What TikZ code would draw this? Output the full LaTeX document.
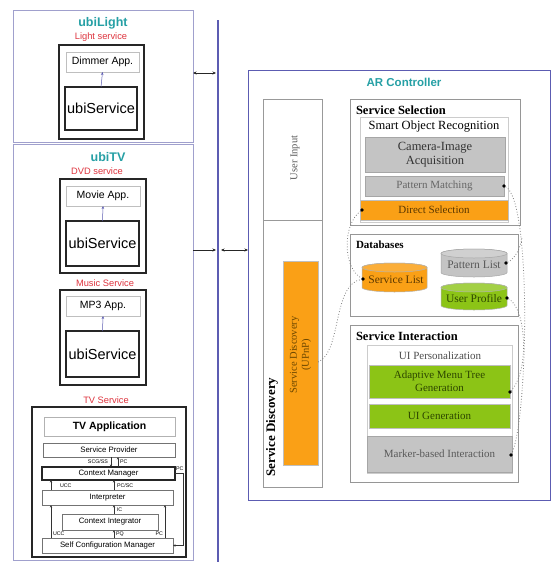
\documentclass[tikz,border=0pt]{standalone}
\usepackage{fontspec}
\setmainfont{Liberation Serif}
\newfontfamily\panelfont{Liberation Sans}
\usetikzlibrary{arrows.meta}

\definecolor{titleteal}{RGB}{38,160,165}
\definecolor{svcred}{RGB}{222,52,62}
\definecolor{busblue}{RGB}{92,92,178}
\definecolor{panelline}{RGB}{160,160,205}
\definecolor{orangefill}{RGB}{250,160,22}
\definecolor{greenfill}{RGB}{140,196,22}
\definecolor{grayfill}{RGB}{196,196,196}
\definecolor{boxline}{RGB}{150,150,150}

\begin{document}
\begin{tikzpicture}[x=1pt,y=-1pt,
  every node/.style={inner sep=0pt, outer sep=0pt},
  panel/.style={draw=panelline, line width=0.8pt},
  redlabel/.style={text=svcred, font=\panelfont\fontsize{9.3}{10}\selectfont},
  teallabel/.style={text=titleteal, font=\panelfont\bfseries\fontsize{12.5}{14}\selectfont},
  svcbox/.style={draw=black!85, line width=1.3pt},
  appbox/.style={draw=black!25, line width=0.5pt, font=\panelfont\fontsize{10.5}{12}\selectfont},
  corebox/.style={draw=black!85, line width=1.3pt, font=\panelfont\fontsize{14.5}{16}\selectfont},
  layer/.style={draw=black!55, line width=0.5pt, font=\panelfont\fontsize{7.8}{9}\selectfont},
  tiny/.style={font=\panelfont\fontsize{5.3}{6}\selectfont},
  flow/.style={-{Stealth[length=2.6pt,width=2.4pt]}, line width=0.5pt, draw=black!80},
  uparrow/.style={-{Stealth[length=3pt,width=2.6pt]}, line width=0.5pt, draw=busblue},
  link/.style={{Stealth[length=3.5pt,width=3pt]}-{Stealth[length=3.5pt,width=3pt]}, line width=0.8pt, draw=black!85},
  linkone/.style={-{Stealth[length=3.5pt,width=3pt]}, line width=0.8pt, draw=black!85},
  group/.style={draw=boxline, line width=0.8pt},
  subgroup/.style={draw=black!20, line width=0.6pt},
  graybox/.style={fill=grayfill, draw=black!35, line width=0.6pt},
  orangebox/.style={fill=orangefill, draw=black!25, line width=0.5pt},
  greenbox/.style={fill=greenfill, draw=black!25, line width=0.5pt},
  heading/.style={font=\bfseries\fontsize{12.5}{14}\selectfont, anchor=west},
  dot/.style={circle, fill=black, minimum size=3.6pt},
  trace/.style={draw=black!50, dotted, line width=0.8pt}
]
\useasboundingbox (0,0) rectangle (553,562);
\fill[white] (0,0) rectangle (553,562);

% ---------------- ubiLight ----------------
\node[panel, minimum width=180pt, minimum height=132pt] (lightpanel) at (103,76) {};
\node[teallabel] (lighttitle) at (103,23) {ubiLight};
\node[redlabel] (lightsvc) at (101,37) {Light service};
\node[svcbox, minimum width=85pt, minimum height=94pt] (lightsvcbox) at (101.5,92) {};
\node[appbox, minimum width=73pt, minimum height=20pt] (dimmer) at (102.5,62) {Dimmer App.};
\node[corebox, minimum width=72pt, minimum height=43pt] (lightcore) at (101,108.5) {ubiService};
\draw[uparrow] (lightcore.north) -- (dimmer.south);

% ---------------- ubiTV ----------------
\node[panel, minimum width=180pt, minimum height=416pt] (tvpanel) at (103,352) {};
\node[teallabel] (tvtitle) at (108,157) {ubiTV};
\node[redlabel] (dvdsvc) at (97,171) {DVD service};
\node[svcbox, minimum width=86pt, minimum height=94pt] (dvdbox) at (103,226) {};
\node[appbox, minimum width=74pt, minimum height=20pt] (movie) at (103,196) {Movie App.};
\node[corebox, minimum width=73pt, minimum height=45pt] (dvdcore) at (102.5,243.5) {ubiService};
\draw[uparrow] (dvdcore.north) -- (movie.south);

\node[redlabel] (musicsvc) at (105,283) {Music Service};
\node[svcbox, minimum width=86pt, minimum height=95pt] (musicbox) at (103,337.5) {};
\node[appbox, minimum width=74pt, minimum height=20pt] (mp3) at (103,306) {MP3 App.};
\node[corebox, minimum width=73pt, minimum height=46pt] (musiccore) at (102.5,354) {ubiService};
\draw[uparrow] (musiccore.north) -- (mp3.south);

\node[redlabel] (tvsvc) at (106,400) {TV Service};
\node[svcbox, line width=1.1pt, minimum width=154pt, minimum height=150pt] (tvbox) at (109,482) {};
\node[draw=black!30, line width=0.5pt, minimum width=131pt, minimum height=19pt,
      font=\panelfont\bfseries\fontsize{10.5}{12}\selectfont] (tvapp) at (109.5,426.5) {TV Application};
\node[layer, minimum width=132pt, minimum height=14pt] (sp) at (109,450) {Service Provider};
\node[layer, line width=1.1pt, draw=black!85, minimum width=133pt, minimum height=13pt] (cm) at (108.5,473.5) {Context Manager};
\node[layer, minimum width=131pt, minimum height=15pt] (interp) at (107.5,497.5) {Interpreter};
\node[layer, minimum width=96pt, minimum height=16pt] (ci) at (110,522) {Context Integrator};
\node[layer, minimum width=131pt, minimum height=15pt] (scm) at (107.5,545.5) {Self Configuration Manager};

% arrow columns inside the TV service stack
\coordinate (colA) at (111,0);
\coordinate (colB) at (118,0);
\coordinate (colC) at (51,0);
\coordinate (colD) at (114,0);
\coordinate (colE) at (165,0);
\draw[flow] (sp.south -| colA) -- (cm.north -| colA);
\draw[flow] (cm.north -| colB) -- (sp.south -| colB);
\node[tiny, anchor=east] (lblscg) at (108,462) {SCG/SS};
\node[tiny, anchor=west] (lblpc1) at (120,462) {PC};
\draw[flow] (interp.north -| colC) -- (cm.south -| colC);
\node[tiny, anchor=west] (lblucc1) at (60,486) {UCC};
\draw[flow] (interp.north -| colD) -- (cm.south -| colD);
\node[tiny, anchor=west] (lblpcsc) at (117,486) {PC/SC};
\draw[flow] (ci.north -| colD) -- (interp.south -| colD);
\node[tiny, anchor=west] (lblic) at (117,510) {IC};
\draw[flow] (scm.north -| colC) -- (interp.south -| colC);
\node[tiny, anchor=west] (lblucc2) at (53,534) {UCC};
\draw[flow] (scm.north -| colD) -- (ci.south -| colD);
\node[tiny, anchor=west] (lblpq) at (116,534) {PQ};
\draw[flow] (scm.north -| colE) -- (interp.south -| colE);
\node[tiny, anchor=east] (lblpc2) at (163,534) {PC};
\draw[flow] (cm.east) -- ++(8,0) |- (scm.east);
\node[tiny, anchor=west] (lblpc3) at (176,469) {PC};

% ---------------- bus and links ----------------
\coordinate (bustop) at (218,20);
\coordinate (busbot) at (218,562);
\draw[draw=busblue, line width=1.8pt] (bustop) -- (busbot);
\coordinate (portlight) at (0,73);
\coordinate (porttv) at (0,250);
\draw[link] (lightpanel.east |- portlight) -- ([xshift=-2pt]bustop |- portlight);
\draw[linkone] (tvpanel.east |- porttv) -- ([xshift=-2pt]bustop |- porttv);

% ---------------- AR Controller ----------------
\node[draw=busblue, line width=1pt, minimum width=302pt, minimum height=430pt] (ar) at (399,285) {};
\draw[link] ([xshift=3pt]bustop |- porttv) -- (ar.west |- porttv);
\node[text=titleteal, font=\panelfont\bfseries\fontsize{11.5}{13}\selectfont] (artitle) at (404,82) {AR Controller};

% user input / service discovery column
\node[draw=black!40, line width=0.6pt, minimum width=59pt, minimum height=388pt] (uicol) at (292.5,293) {};
\coordinate (divy) at (0,220);
\draw[draw=black!40, line width=0.6pt] (uicol.west |- divy) -- (uicol.east |- divy);
\node[rotate=90, text=black!65, font=\fontsize{10.5}{12}\selectfont] (userinput) at (295,158) {User Input};
\node[rotate=90, font=\bfseries\fontsize{13}{14}\selectfont] (sdtitle) at (272,427) {Service Discovery};
\node[orangebox, minimum width=35pt, minimum height=204pt] (upnp) at (300.5,363) {};
\node[rotate=90, align=center, text={rgb,255:red,110;green,72;blue,0}, font=\fontsize{10.5}{12}\selectfont] (upnptext) at (300.5,355) {Service Discovery\\(UPnP)};

% service selection
\node[group, minimum width=170pt, minimum height=126pt] (selgrp) at (435,162) {};
\node[heading] (seltitle) at (356,110) {Service Selection};
\node[subgroup, minimum width=148pt, minimum height=105pt] (sor) at (434,169.5) {};
\node[font=\fontsize{12.5}{14}\selectfont] (sortitle) at (434,127) {Smart Object Recognition};
\node[graybox, minimum width=140pt, minimum height=35pt, align=center, text=black!80,
      font=\fontsize{12.5}{14}\selectfont] (camera) at (435,154.5) {Camera-Image\\Acquisition};
\node[graybox, minimum width=139pt, minimum height=20pt, text=black!60,
      font=\fontsize{11}{12}\selectfont] (pm) at (434.5,186) {Pattern Matching};
\node[orangebox, minimum width=148pt, minimum height=20pt, text={rgb,255:red,90;green,55;blue,0},
      font=\fontsize{11}{12}\selectfont] (ds) at (434,210) {Direct Selection};

% databases
\node[group, minimum width=168pt, minimum height=82pt] (dbgrp) at (434,275) {};
\node[heading, font=\bfseries\fontsize{11}{12}\selectfont] (dbtitle) at (356,245) {Databases};
% service list cylinder
\path[fill=orangefill, draw=black!30, line width=0.5pt] (362,267.5) -- (362,287.5)
  arc[start angle=180, end angle=0, x radius=32.5, y radius=4.5] -- (427,267.5)
  arc[start angle=0, end angle=-180, x radius=32.5, y radius=4.5] -- cycle;
\draw[fill=orangefill!85!white, draw=black!30, line width=0.5pt] (394.5,267.5) ellipse[x radius=32.5, y radius=4.5];
\node[text={rgb,255:red,90;green,55;blue,0}, font=\fontsize{11.5}{12}\selectfont] (sl) at (396,280) {Service List};
% pattern list cylinder
\path[fill=grayfill, draw=black!35, line width=0.5pt] (441,253.5) -- (441,272.5)
  arc[start angle=180, end angle=0, x radius=33, y radius=4.5] -- (507,253.5)
  arc[start angle=0, end angle=-180, x radius=33, y radius=4.5] -- cycle;
\draw[fill=grayfill!80!white, draw=black!35, line width=0.5pt] (474,253.5) ellipse[x radius=33, y radius=4.5];
\node[text=black!65, font=\fontsize{11.5}{12}\selectfont] (pl) at (474,265) {Pattern List};
% user profile cylinder
\path[fill=greenfill, draw=black!30, line width=0.5pt] (441,287.5) -- (441,305.5)
  arc[start angle=180, end angle=0, x radius=33, y radius=4.5] -- (507,287.5)
  arc[start angle=0, end angle=-180, x radius=33, y radius=4.5] -- cycle;
\draw[fill=greenfill!80!white, draw=black!30, line width=0.5pt] (474,287.5) ellipse[x radius=33, y radius=4.5];
\node[text={rgb,255:red,45;green,70;blue,0}, font=\fontsize{11.5}{12}\selectfont] (upf) at (474,299) {User Profile};

% service interaction
\node[group, minimum width=168pt, minimum height=157pt] (intgrp) at (434,403.5) {};
\node[heading] (inttitle) at (356,336) {Service Interaction};
\node[subgroup, minimum width=145pt, minimum height=128pt] (uip) at (439.5,409) {};
\node[text=black!70, font=\fontsize{11}{12}\selectfont] (uiptitle) at (440,356) {UI Personalization};
\node[greenbox, minimum width=141pt, minimum height=33pt, align=center, text={rgb,255:red,45;green,70;blue,0},
      font=\fontsize{11}{13}\selectfont] (amt) at (439.5,381.5) {Adaptive Menu Tree\\Generation};
\node[greenbox, minimum width=141pt, minimum height=24pt, text={rgb,255:red,45;green,70;blue,0},
      font=\fontsize{11}{12}\selectfont] (uig) at (439.5,416) {UI Generation};
\node[graybox, minimum width=145pt, minimum height=36pt, text=black!65,
      font=\fontsize{11}{12}\selectfont] (mbi) at (439.5,454) {Marker-based Interaction};

% ---------------- dotted relations ----------------
\node[dot] (dsdot) at (362,210) {};
\node[dot] (sldot) at (363,279) {};
\node[dot] (pmdot) at (504,186) {};
\node[dot] (pldot) at (506,263) {};
\node[dot] (updot) at (507,298) {};
\node[dot] (amdot) at (510,392) {};
\node[dot] (mbdot) at (511,455) {};
\coordinate (upnpout) at (318,362);
\coordinate (merge) at (522,238);

\draw[trace] (dsdot) .. controls (342,225) and (343,268) .. (sldot);
\draw[trace] (upnpout) .. controls (342,352) and (332,285) .. (sldot);
\draw[trace] (pmdot) .. controls (532,200) and (528,420) .. (mbdot);
\draw[trace] (pldot) .. controls (516,258) and (520,248) .. (merge);
\draw[trace] (updot) .. controls (526,308) and (530,370) .. (amdot);
\end{tikzpicture}
\end{document}
